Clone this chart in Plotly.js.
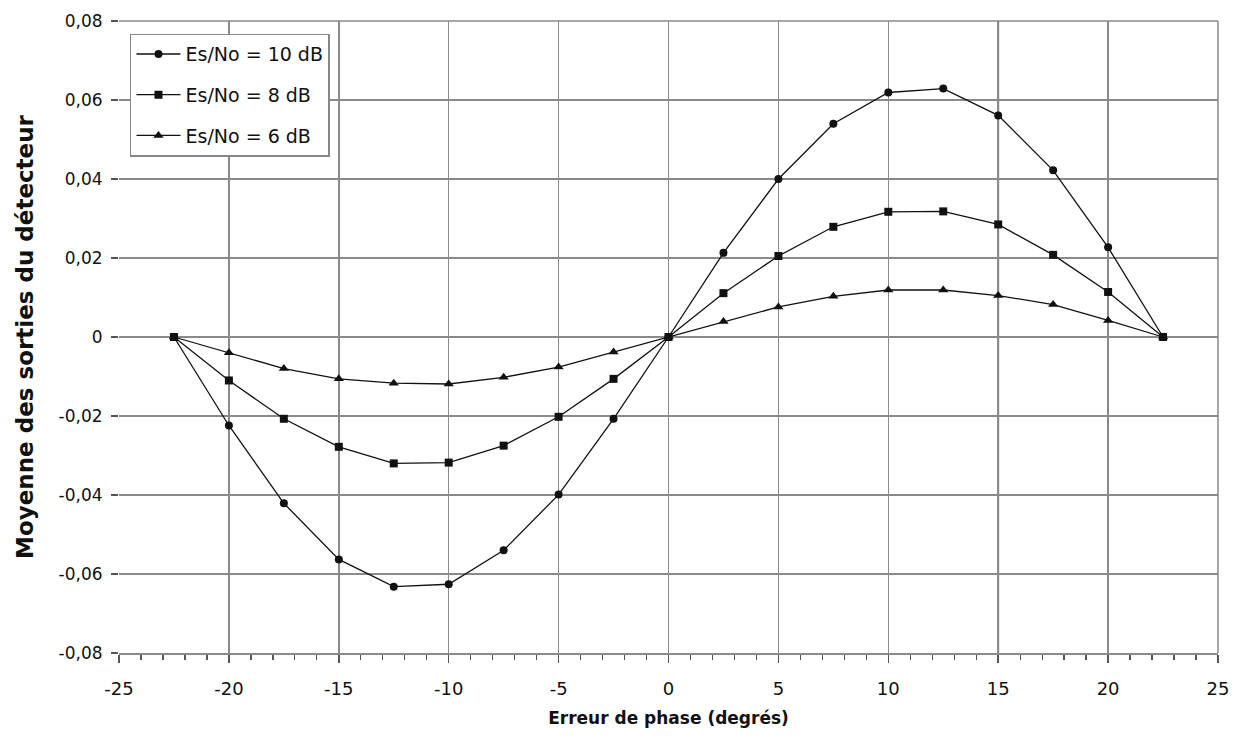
<!DOCTYPE html>
<html>
<head>
<meta charset="utf-8">
<script src="https://cdn.plot.ly/plotly-3.0.1.min.js"></script>
<style>html,body{margin:0;padding:0;background:#fff;}#chart{width:1238px;height:744px;}</style>
</head>
<body>
<div id="chart"></div>
<script>
const phaseError = [-22.5, -20, -17.5, -15, -12.5, -10, -7.5, -5, -2.5, 0, 2.5, 5, 7.5, 10, 12.5, 15, 17.5, 20, 22.5];
const es10dB = [0, -0.0224, -0.0421, -0.0563, -0.0632, -0.0626, -0.054, -0.0399, -0.0207, 0, 0.0213, 0.04, 0.054, 0.0619, 0.0629, 0.0561, 0.0422, 0.0227, 0];
const es8dB = [0, -0.011, -0.0207, -0.0278, -0.032, -0.0318, -0.0275, -0.0202, -0.0106, 0, 0.0111, 0.0205, 0.0279, 0.0317, 0.0318, 0.0285, 0.0208, 0.0114, 0];
const es6dB = [0, -0.004, -0.008, -0.0106, -0.0117, -0.0119, -0.0102, -0.0076, -0.0038, 0, 0.0039, 0.0076, 0.0103, 0.0119, 0.0119, 0.0105, 0.0082, 0.0042, 0];
const seriesNames = ["Es/No = 10 dB", "Es/No = 8 dB", "Es/No = 6 dB"];
const yTickVals = [-0.08, -0.06, -0.04, -0.02, 0, 0.02, 0.04, 0.06, 0.08];
const yTickText = ["-0,08", "-0,06", "-0,04", "-0,02", "0", "0,02", "0,04", "0,06", "0,08"];
const xTickVals = [-25, -20, -15, -10, -5, 0, 5, 10, 15, 20, 25];
const xTickText = ["-25", "-20", "-15", "-10", "-5", "0", "5", "10", "15", "20", "25"];

const FONT = "DejaVu Sans, Verdana, sans-serif";
const lineStyle = {color: "#111", width: 1.3};

const traces = [
  {x: phaseError, y: es10dB, name: seriesNames[0], mode: "lines+markers", type: "scatter",
   line: lineStyle, marker: {symbol: "circle", size: 8, color: "#111"}, legendgroup: "a"},
  {x: phaseError, y: es8dB, name: seriesNames[1], mode: "lines+markers", type: "scatter",
   line: lineStyle, marker: {symbol: "square", size: 8, color: "#111"}, legendgroup: "b"},
  {x: phaseError, y: es6dB, name: seriesNames[2], mode: "lines+markers", type: "scatter",
   line: lineStyle, marker: {symbol: "triangle-up", size: 9, color: "#111"}, legendgroup: "c"}
];

const layout = {
  width: 1238, height: 744,
  margin: {l: 119, r: 20, t: 21, b: 91},
  paper_bgcolor: "#fff", plot_bgcolor: "#fff",
  font: {family: FONT, color: "#111", size: 17},
  showlegend: true,
  legend: {
    x: 0.01, y: 0.98, xanchor: "left", yanchor: "top",
    bgcolor: "#fff", bordercolor: "#888", borderwidth: 1.5,
    font: {family: FONT, size: 19, color: "#111"},
    traceorder: "grouped", tracegroupgap: 13, itemwidth: 44
  },
  xaxis: {
    range: [-25, 25], tickvals: xTickVals, ticktext: xTickText,
    showgrid: true, gridcolor: "#8a8a8a", gridwidth: 1.5,
    zeroline: false, showline: true, linecolor: "#8a8a8a", linewidth: 1.5,
    ticks: "outside", ticklen: 8, tickcolor: "#555", tickwidth: 1.5,
    minor: {dtick: 1, ticks: "outside", ticklen: 5, tickcolor: "#555", tickwidth: 1.3, showgrid: false},
    tickfont: {family: FONT, size: 18, color: "#111"},
    ticklabelstandoff: 11,
    title: {text: "Erreur de phase (degrés)", font: {family: "DejaVu Sans", size: 17, color: "#111", weight: "bold"}, standoff: 14},
    fixedrange: true
  },
  yaxis: {
    range: [-0.08, 0.08], tickvals: yTickVals, ticktext: yTickText,
    showgrid: true, gridcolor: "#8a8a8a", gridwidth: 1.5,
    zeroline: false, showline: false,
    ticks: "outside", ticklen: 7, tickcolor: "#555", tickwidth: 1.5,
    tickfont: {family: FONT, size: 17, color: "#111"},
    ticklabelstandoff: 5,
    title: {text: "Moyenne des sorties du détecteur", font: {family: "DejaVu Sans", size: 23, color: "#111", weight: "bold"}, standoff: 18},
    fixedrange: true
  },
  shapes: [
    {type: "line", xref: "paper", x0: 0, x1: 1, yref: "y", y0: 0.02, y1: 0.02, line: {color: "#000", width: 1.8}, layer: "below"},
    {type: "line", xref: "x", x0: 15, x1: 15, yref: "paper", y0: 0, y1: 1, line: {color: "#000", width: 1.8}, layer: "below"},
    {type: "line", xref: "paper", x0: 0, x1: 1, yref: "paper", y0: 1, y1: 1, line: {color: "#8a8a8a", width: 1.5}, layer: "below"},
    {type: "line", xref: "paper", x0: 1, x1: 1, yref: "paper", y0: 0, y1: 1, line: {color: "#8a8a8a", width: 1.5}, layer: "below"}
  ]
};

Plotly.newPlot("chart", traces, layout, {displayModeBar: false, staticPlot: true});
</script>
</body>
</html>
